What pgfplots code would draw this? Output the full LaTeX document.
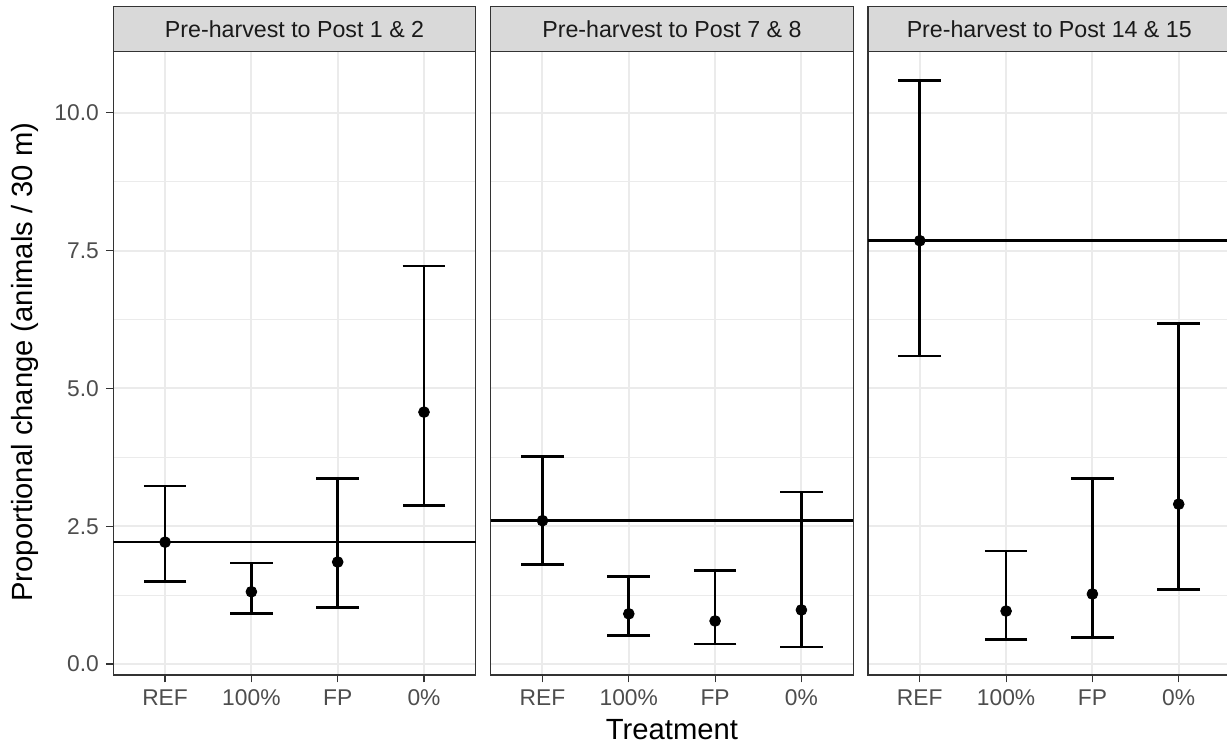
\documentclass[border=0pt]{standalone}
\usepackage{fontspec}
\setmainfont{Liberation Sans}
\usepackage{pgfplots}
\pgfplotsset{compat=1.18}
\usepackage{pgfplotstable}

\definecolor{gridcol}{HTML}{EBEBEB}
\definecolor{framecol}{HTML}{333333}
\definecolor{tickcol}{HTML}{4D4D4D}
\definecolor{stripfill}{HTML}{D9D9D9}
\definecolor{striptext}{HTML}{1A1A1A}

% x = treatment (1 REF, 2 100%, 3 FP, 4 0%), y = estimate, lo/hi = interval
\pgfplotstableread{
x y    lo   hi
1 2.21 1.50 3.23
2 1.31 0.92 1.83
3 1.85 1.02 3.37
4 4.57 2.88 7.22
}\postA
\pgfplotstableread{
x y    lo   hi
1 2.60 1.81 3.76
2 0.91 0.52 1.59
3 0.78 0.36 1.69
4 0.98 0.31 3.12
}\postB
\pgfplotstableread{
x y    lo   hi
1 7.68 5.59 10.59
2 0.96 0.45 2.05
3 1.27 0.48 3.36
4 2.90 1.35 6.18
}\postC

\pgfplotsset{
  facet/.style={
    scale only axis, width=181.25pt, height=311.65pt,
    xmin=0.4, xmax=4.6, ymin=-0.2, ymax=11.11,
    xtick={1,2,3,4}, xticklabels={REF,100\%,FP,0\%},
    ytick={0,2.5,5,7.5,10}, minor ytick={1.25,3.75,6.25,8.75},
    grid=both,
    major grid style={gridcol, line width=1pt},
    minor grid style={gridcol, line width=0.5pt},
    axis line style={framecol, line width=0.6pt},
    tick align=outside, major tick length=3.7pt, minor tick length=0pt,
    xtick pos=left, ytick pos=left,
    tick style={framecol, line width=0.6pt},
    ticklabel style={font=\fontsize{11.4}{13}\selectfont, text=tickcol},
    /pgf/number format/assume math mode=true,
    yticklabel={\pgfmathprintnumber[fixed,fixed zerofill,precision=1]{\tick}},
    label style={font=\fontsize{14.6}{16}\selectfont, text=black},
  },
  estimate/.style={
    only marks, mark=*, mark size=2.7pt, black,
    error bars/.cd, y dir=both, y explicit,
    error mark=|,
    error mark options={black, mark size=10.65pt, line width=1.35pt},
    error bar style={black, line width=1.35pt},
  },
  baseline/.style={black, line width=1.3pt},
}

\begin{document}
\begin{tikzpicture}
\path[use as bounding box] (0,0) rectangle (613.5pt,374pt);

\begin{axis}[facet, name=pA, at={(56.65pt,36.5pt)}, anchor=south west,
    ylabel={Proportional change (animals / 30 m)},
    ylabel style={at={(axis description cs:-0.2436,0.502)}, anchor=center}]
\addplot[baseline] coordinates {(0.4,2.21) (4.6,2.21)};
\addplot[estimate] table[x=x, y=y,
    y error plus expr=\thisrow{hi}-\thisrow{y},
    y error minus expr=\thisrow{y}-\thisrow{lo}] {\postA};
\end{axis}

\begin{axis}[facet, name=pB, at={(245.35pt,36.5pt)}, anchor=south west,
    yticklabels={}, ytick style={draw=none},
    xlabel={Treatment},
    xlabel style={at={(axis description cs:0.5,-0.088)}, anchor=center}]
\addplot[baseline] coordinates {(0.4,2.60) (4.6,2.60)};
\addplot[estimate] table[x=x, y=y,
    y error plus expr=\thisrow{hi}-\thisrow{y},
    y error minus expr=\thisrow{y}-\thisrow{lo}] {\postB};
\end{axis}

\begin{axis}[facet, name=pC, at={(434.0pt,36.5pt)}, anchor=south west,
    yticklabels={}, ytick style={draw=none}]
\addplot[baseline] coordinates {(0.4,7.68) (4.6,7.68)};
\addplot[estimate] table[x=x, y=y,
    y error plus expr=\thisrow{hi}-\thisrow{y},
    y error minus expr=\thisrow{y}-\thisrow{lo}] {\postC};
\end{axis}

% facet strips
\foreach \p/\t in {pA/{Pre-harvest to Post 1 \& 2},
                   pB/{Pre-harvest to Post 7 \& 8},
                   pC/{Pre-harvest to Post 14 \& 15}} {
  \draw[framecol, line width=0.6pt, fill=stripfill]
    (\p.north west) rectangle ([yshift=22.5pt]\p.north east);
  \node[text=striptext, font=\fontsize{11.6}{13}\selectfont]
    at ([yshift=11.25pt]\p.north) {\t};
}
\end{tikzpicture}
\end{document}
